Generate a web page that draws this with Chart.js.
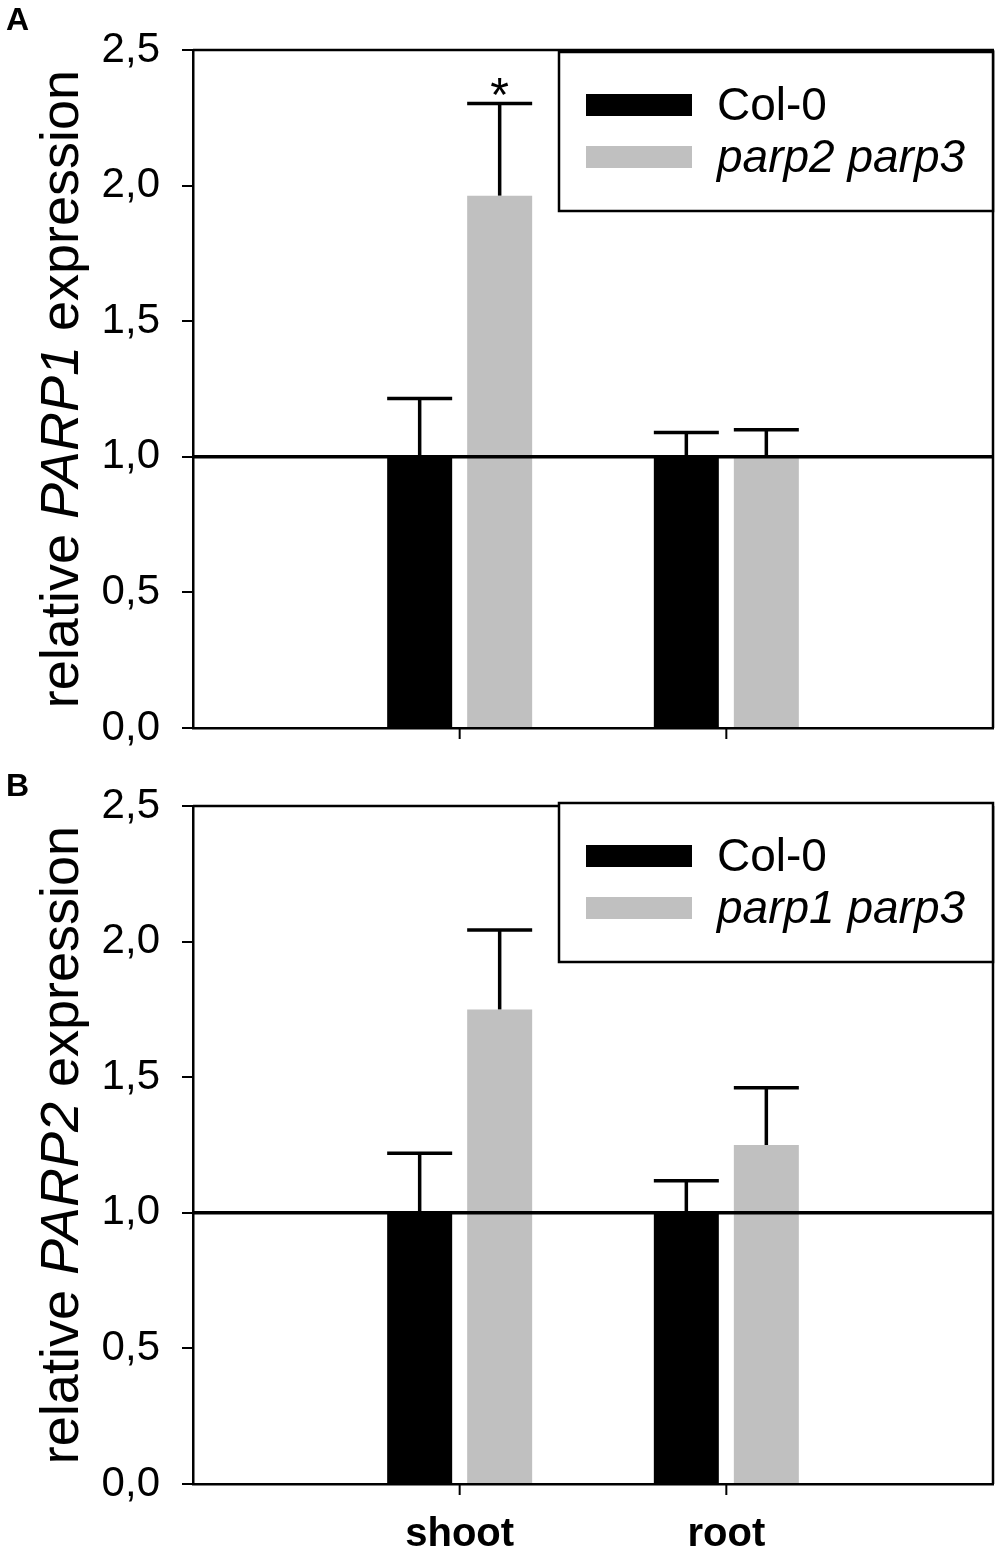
<!DOCTYPE html>
<html>
<head>
<meta charset="utf-8">
<script src="https://cdn.jsdelivr.net/npm/chart.js@4.4.1/dist/chart.umd.min.js"></script>
<style>
  body { margin: 0; background: #fff; }
  .page { position: relative; width: 1000px; height: 1560px; }
  canvas { position: absolute; left: 0; display: block; }
  #chartA { top: 0; }
  #chartB { top: 740px; }
</style>
</head>
<body>
<div class="page">
<canvas id="chartA" width="1000" height="800"></canvas>
<canvas id="chartB" width="1000" height="820"></canvas>
</div>
<script>
// data
const categories = ['shoot', 'root'];
const yTicks = [0, 0.5, 1, 1.5, 2, 2.5];

const seriesA = ['Col-0', 'parp2 parp3'];
const col0A = [1.0, 1.0];
const col0ErrA = [0.215, 0.09];
const mutantA = [1.963, 1.0];
const mutantErrA = [0.34, 0.1];
const mutantSigA = ['*', ''];

const seriesB = ['Col-0', 'parp1 parp3'];
const col0B = [1.0, 1.0];
const col0ErrB = [0.22, 0.118];
const mutantB = [1.75, 1.25];
const mutantErrB = [0.293, 0.211];
const mutantSigB = ['', ''];

const titleA = ['relative ', 'PARP1', ' expression'];
const titleB = ['relative ', 'PARP2', ' expression'];

const FONT = "'Liberation Sans', Arial, Helvetica, sans-serif";
const GRAY = '#c0c0c0';

// category axis padded with empty slots so shoot/root sit at 1/3 and 2/3
const pad = (arr) => [null, ...arr, null];

function stroke(ctx, x1, y1, x2, y2) {
    ctx.beginPath();
    ctx.moveTo(x1, y1);
    ctx.lineTo(x2, y2);
    ctx.stroke();
}

function drawYTitle(ctx, parts, x, cy, size) {
    ctx.save();
    ctx.translate(x, cy);
    ctx.rotate(-Math.PI / 2);
    const fonts = parts.map((_, i) => `${i === 1 ? 'italic ' : ''}${size}px ${FONT}`);
    const widths = parts.map((p, i) => {
        ctx.font = fonts[i];
        return ctx.measureText(p).width;
    });
    let pos = -widths.reduce((a, b) => a + b, 0) / 2;
    ctx.fillStyle = '#000';
    ctx.textAlign = 'left';
    ctx.textBaseline = 'alphabetic';
    parts.forEach((p, i) => {
        ctx.font = fonts[i];
        ctx.fillText(p, pos, 0);
        pos += widths[i];
    });
    ctx.restore();
}

const decorPlugin = {
    id: 'decor',
    afterDatasetsDraw(chart, args, opts) {
        const { ctx, chartArea: area, scales: { x, y } } = chart;
        ctx.save();
        ctx.strokeStyle = '#000';
        ctx.lineCap = 'butt';

        // frame top and right
        ctx.lineWidth = 2.5;
        stroke(ctx, area.left, area.top, area.right + 1, area.top);
        stroke(ctx, area.right, area.top, area.right, area.bottom);

        // category tick marks below the x axis
        ctx.lineWidth = 2;
        categories.forEach((_, i) => {
            const px = x.getPixelForValue(i + 1);
            stroke(ctx, px, area.bottom, px, area.bottom + 11);
        });

        // reference line at 1,0
        ctx.lineWidth = 3.5;
        const yRef = y.getPixelForValue(1);
        stroke(ctx, area.left, yRef, area.right, yRef);

        // upper error bars
        chart.data.datasets.forEach((ds, di) => {
            const meta = chart.getDatasetMeta(di);
            meta.data.forEach((bar, i) => {
                const v = ds.data[i];
                const e = ds.errors[i];
                if (v == null || e == null) return;
                const yTop = y.getPixelForValue(v + e);
                const half = bar.width / 2;
                ctx.lineWidth = 3.5;
                stroke(ctx, bar.x, y.getPixelForValue(v), bar.x, yTop);
                stroke(ctx, bar.x - half, yTop, bar.x + half, yTop);
                if (ds.sig && ds.sig[i]) {
                    ctx.fillStyle = '#000';
                    ctx.font = `48px ${FONT}`;
                    ctx.textAlign = 'center';
                    ctx.textBaseline = 'alphabetic';
                    ctx.fillText(ds.sig[i], bar.x, yTop + 8);
                }
            });
        });

        // legend box
        const boxTop = area.top + opts.legendOffset;
        ctx.fillStyle = '#fff';
        ctx.fillRect(559, boxTop, 434, 159);
        ctx.lineWidth = 2.5;
        ctx.strokeRect(559, boxTop, 434, 159);
        chart.data.datasets.forEach((ds, di) => {
            const top = boxTop + 42 + di * 52;
            ctx.fillStyle = ds.backgroundColor;
            ctx.fillRect(586, top, 106, 22);
            ctx.fillStyle = '#000';
            ctx.font = `${di === 1 ? 'italic ' : ''}46px ${FONT}`;
            ctx.textAlign = 'left';
            ctx.textBaseline = 'alphabetic';
            ctx.fillText(ds.label, 717, top + 11 + 15);
        });

        // y title and panel letter
        drawYTitle(ctx, opts.title, 78, (area.top + area.bottom) / 2, 54);
        ctx.fillStyle = '#000';
        ctx.font = `bold 32px ${FONT}`;
        ctx.textAlign = 'left';
        ctx.fillText(opts.letter, 6, opts.letterBaseline);
        ctx.restore();
    },
};

function makeChart(id, cfg) {
    return new Chart(document.getElementById(id), {
        type: 'bar',
        data: {
            labels: pad(categories),
            datasets: [
                {
                    label: cfg.series[0],
                    data: pad(cfg.col0),
                    errors: pad(cfg.col0Err),
                    backgroundColor: '#000',
                },
                {
                    label: cfg.series[1],
                    data: pad(cfg.mutant),
                    errors: pad(cfg.mutantErr),
                    sig: pad(cfg.sig),
                    backgroundColor: GRAY,
                },
            ],
        },
        options: {
            responsive: false,
            animation: false,
            devicePixelRatio: 1,
            layout: { padding: { left: 0, top: cfg.top, right: 7, bottom: 0 } },
            datasets: { bar: { categoryPercentage: 0.6, barPercentage: 0.8125, borderWidth: 0 } },
            plugins: {
                legend: { display: false },
                tooltip: { enabled: false },
                decor: {
                    title: cfg.title,
                    letter: cfg.letter,
                    letterBaseline: cfg.letterBaseline,
                    legendOffset: cfg.legendOffset,
                },
            },
            scales: {
                x: {
                    offset: false,
                    afterFit(axis) {
                        axis.height = cfg.xHeight;
                    },
                    border: { display: true, color: '#000', width: 2.5 },
                    grid: {
                        offset: false,
                        drawOnChartArea: false,
                        drawTicks: false,
                        tickLength: 10,
                    },
                    ticks: {
                        autoSkip: false,
                        maxRotation: 0,
                        padding: 27,
                        color: cfg.showX ? '#000' : 'rgba(0,0,0,0)',
                        font: { family: FONT, size: 40, weight: 'bold' },
                    },
                },
                y: {
                    min: yTicks[0],
                    max: yTicks[yTicks.length - 1],
                    afterFit(axis) {
                        axis.width = 193;
                    },
                    afterBuildTicks(axis) {
                        axis.ticks = yTicks.map((v) => ({ value: v }));
                    },
                    border: { display: true, color: '#000', width: 2.5 },
                    grid: {
                        drawOnChartArea: false,
                        drawTicks: true,
                        tickLength: 11,
                        lineWidth: 2,
                        color: '#000',
                    },
                    ticks: {
                        padding: 22,
                        color: '#000',
                        font: { family: FONT, size: 42 },
                        callback(value) {
                            return Number(value).toFixed(1).replace('.', ',');
                        },
                    },
                },
            },
        },
        plugins: [decorPlugin],
    });
}

makeChart('chartA', {
    series: seriesA, col0: col0A, col0Err: col0ErrA, mutant: mutantA, mutantErr: mutantErrA, sig: mutantSigA,
    title: titleA, letter: 'A', letterBaseline: 30, legendOffset: 2,
    top: 50, xHeight: 72, showX: false,
});

makeChart('chartB', {
    series: seriesB, col0: col0B, col0Err: col0ErrB, mutant: mutantB, mutantErr: mutantErrB, sig: mutantSigB,
    title: titleB, letter: 'B', letterBaseline: 56, legendOffset: -3,
    top: 66, xHeight: 76, showX: true,
});
</script>
</body>
</html>
